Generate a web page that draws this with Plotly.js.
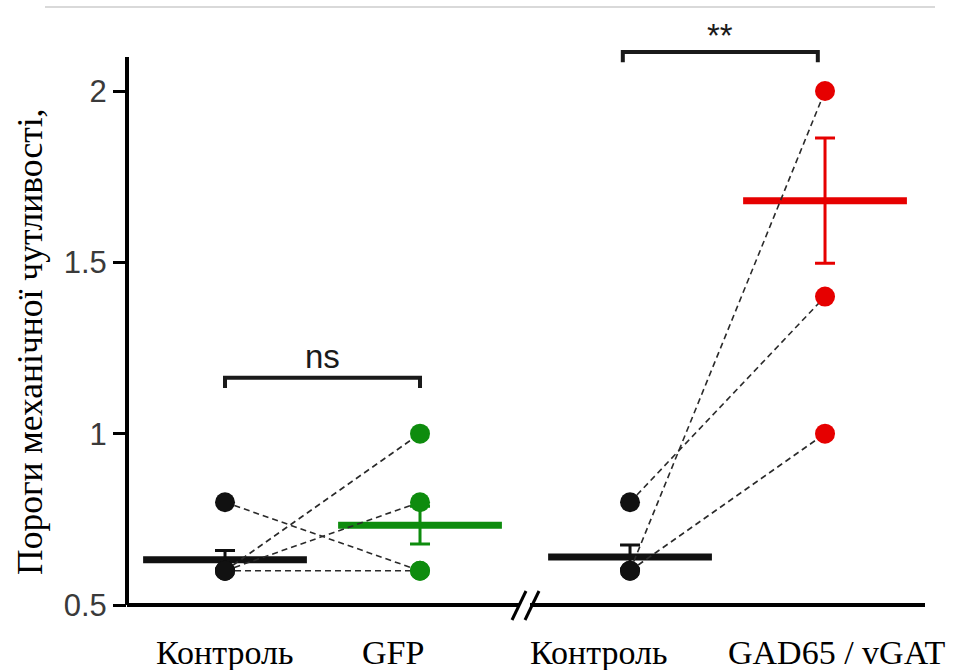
<!DOCTYPE html>
<html>
<head>
<meta charset="utf-8">
<script src="https://cdn.plot.ly/plotly-3.0.1.min.js"></script>
<style>
  html, body { margin: 0; padding: 0; background: #fff; }
  #chart { width: 955px; height: 670px; }
</style>
</head>
<body>
<div id="chart"></div>
<script>
// Group names along the x axis
const groupLabels = ["Контроль", "GFP", "Контроль", "GAD65 / vGAT"];
// Category positions (the second pair sits after the axis break)
const groupPos = [1, 2, 3.077, 4.077];
const groupColors = ["#111111", "#0e8c0e", "#111111", "#e60000"];

// Paired animals, experiment 1: control -> GFP
const ctrlA = [0.8, 0.6, 0.6, 0.6];
const gfp   = [0.6, 1.0, 0.8, 0.6];
// Paired animals, experiment 2: control -> GAD65 / vGAT
const ctrlB = [0.8, 0.6, 0.6];
const gad   = [1.4, 2.0, 1.0];

// Group mean and SEM
const groupMean = [0.632, 0.733, 0.640, 1.680];
const groupSem  = [0.027, 0.055, 0.035, 0.183];

// Significance brackets
const brackets = [
  { from: 0, to: 1, y: 1.163, text: "ns",  textY: 1.224, shift: 0 },
  { from: 2, to: 3, y: 2.114, text: "**",  textY: 2.163, shift: -0.037 }
];

const yTicks = [0.5, 1, 1.5, 2];
const yTickText = ["0.5", "1", "1.5", "2"];

const xRange = [0.4974, 4.641];
const yRange = [0.5, 2.2014];
const halfBar = 0.42;
const labelOffset = [-0.005, -0.138, -0.164, 0.061];

const traces = [];

// mean bars with SEM whiskers
groupPos.forEach((p, i) => {
  traces.push({
    x: [p], y: [groupMean[i]], type: "scatter", mode: "markers",
    marker: { size: 1, color: "rgba(0,0,0,0)" },
    error_y: { type: "data", array: [groupSem[i]], visible: true,
               color: groupColors[i], thickness: 3, width: 10 },
    hoverinfo: "skip", showlegend: false
  });
  traces.push({
    x: [p - halfBar, p + halfBar], y: [groupMean[i], groupMean[i]],
    type: "scatter", mode: "lines",
    line: { color: groupColors[i], width: 7 },
    hoverinfo: "skip", showlegend: false
  });
});

// dashed lines joining each animal's paired values
function pairLines(before, after, x0, x1) {
  before.forEach((v, k) => {
    traces.push({
      x: [x0, x1], y: [v, after[k]], type: "scatter", mode: "lines",
      line: { color: "#2a2a2a", width: 1.6, dash: "6px,4px" },
      hoverinfo: "skip", showlegend: false
    });
  });
}
pairLines(ctrlA, gfp, groupPos[0], groupPos[1]);
pairLines(ctrlB, gad, groupPos[2], groupPos[3]);

// individual values
function dots(vals, pos, color) {
  traces.push({
    x: vals.map(() => pos), y: vals, type: "scatter", mode: "markers",
    marker: { size: 20, color: color },
    cliponaxis: false, showlegend: false
  });
}
dots(ctrlA, groupPos[0], groupColors[0]);
dots(gfp,   groupPos[1], groupColors[1]);
dots(ctrlB, groupPos[2], groupColors[2]);
dots(gad,   groupPos[3], groupColors[3]);

const shapes = [];
const annotations = [];

// brackets
brackets.forEach(b => {
  const x0 = groupPos[b.from] + b.shift, x1 = groupPos[b.to] + b.shift, drop = 0.03;
  shapes.push({
    type: "path", xref: "x", yref: "y",
    path: `M ${x0} ${b.y - drop} L ${x0} ${b.y} L ${x1} ${b.y} L ${x1} ${b.y - drop}`,
    line: { color: "#1a1a1a", width: 4 }
  });
  annotations.push({
    x: (x0 + x1) / 2, y: b.textY, xref: "x", yref: "y", text: b.text,
    showarrow: false, xanchor: "center", yanchor: "middle",
    font: { family: "Liberation Sans, Arial, sans-serif", size: 33, color: "#1a1a1a" }
  });
});

// axis lines: y axis, and the x axis with a break
const px = v => v / 808;            // pixel offset -> paper x
shapes.push({ type: "line", xref: "paper", yref: "y", x0: 0, x1: 0, y0: 0.5, y1: 2.099,
              line: { color: "#000", width: 4 } });
shapes.push({ type: "line", xref: "paper", yref: "paper", x0: 0, x1: px(392), y0: 0, y1: 0,
              line: { color: "#000", width: 4 } });
shapes.push({ type: "line", xref: "paper", yref: "paper", x0: px(403), x1: px(798), y0: 0, y1: 0,
              line: { color: "#000", width: 4 } });
const py = v => v / 583;            // pixel offset -> paper y
shapes.push({ type: "line", xref: "paper", yref: "paper", x0: px(385), x1: px(399), y0: py(-15), y1: py(14),
              line: { color: "#000", width: 3 } });
shapes.push({ type: "line", xref: "paper", yref: "paper", x0: px(398), x1: px(412), y0: py(-15), y1: py(14),
              line: { color: "#000", width: 3 } });
// thin rule across the top
shapes.push({ type: "line", xref: "paper", yref: "paper", x0: px(-82), x1: px(808), y0: py(598), y1: py(598),
              line: { color: "#d9d9d9", width: 2 } });

// category labels
groupLabels.forEach((t, i) => {
  annotations.push({
    x: groupPos[i] + labelOffset[i], y: py(-47), xref: "x", yref: "paper", text: t,
    showarrow: false, xanchor: "center", yanchor: "middle",
    font: { family: "Liberation Serif, Times New Roman, serif", size: 34, color: "#000" }
  });
});

// y axis title
annotations.push({
  x: px(-97), y: py(263), xref: "paper", yref: "paper",
  text: "Пороги механічної чутливості,", textangle: -90,
  showarrow: false, xanchor: "center", yanchor: "middle",
  font: { family: "Liberation Serif, Times New Roman, serif", size: 35.5, color: "#000" }
});

const layout = {
  width: 955, height: 670,
  margin: { l: 127, r: 20, t: 22, b: 65 },
  paper_bgcolor: "#fff", plot_bgcolor: "#fff",
  showlegend: false,
  xaxis: { range: xRange, showline: false, showgrid: false, zeroline: false,
           showticklabels: false, ticks: "", fixedrange: true },
  yaxis: { range: yRange, showline: false, showgrid: false, zeroline: false,
           tickvals: yTicks, ticktext: yTickText, ticks: "outside",
           ticklen: 13, tickwidth: 3, tickcolor: "#000",
           tickfont: { family: "Liberation Sans, Arial, sans-serif", size: 31, color: "#3a3a3a" },
           fixedrange: true },
  shapes: shapes,
  annotations: annotations
};

Plotly.newPlot("chart", traces, layout, { displayModeBar: false, staticPlot: true });
</script>
</body>
</html>
